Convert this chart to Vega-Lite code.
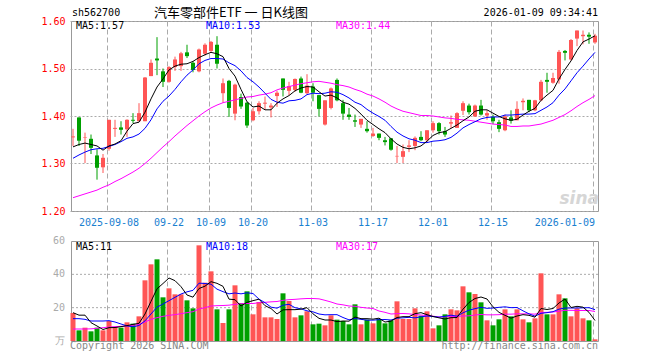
{
"$schema": "https://vega.github.io/schema/vega-lite/v6.json",
"autosize": {"type": "pad"},
"padding": {"left": 40, "top": 6, "right": 0, "bottom": 0},
"background": "white",
"spacing": 30,
"bounds": "flush",
"config": {
  "view": {"stroke": "#999999", "strokeWidth": 1},
  "axis": {"labelFont": "DejaVu Sans Mono", "labelFontSize": 10, "ticks": false, "domain": false, "title": null, "gridColor": "#aaaaaa", "gridWidth": 1, "labelOverlap": false, "labelAngle": 0},
  "text": {"font": "DejaVu Sans Mono", "fontSize": 10},
  "line": {"strokeWidth": 1}
},
"datasets": {
"k": [
{"d":"2025-08-29","o":1.355,"h":1.373,"l":1.337,"c":1.357,"v":16.8,"m5":1.335,"m10":1.311,"m30":1.228,"vm5":17.0,"vm10":13.4,"vm30":7.2},
{"d":"2025-09-01","o":1.397,"h":1.397,"l":1.337,"c":1.348,"v":6.4,"m5":1.340,"m10":1.318,"m30":1.232,"vm5":15.5,"vm10":13.4,"vm30":7.2},
{"d":"2025-09-02","o":1.354,"h":1.365,"l":1.301,"c":1.355,"v":8.0,"m5":1.343,"m10":1.324,"m30":1.236,"vm5":15.5,"vm10":13.0,"vm30":7.2},
{"d":"2025-09-03","o":1.352,"h":1.361,"l":1.320,"c":1.333,"v":5.8,"m5":1.340,"m10":1.329,"m30":1.240,"vm5":11.0,"vm10":12.0,"vm30":7.3},
{"d":"2025-09-04","o":1.317,"h":1.330,"l":1.266,"c":1.291,"v":8.0,"m5":1.337,"m10":1.331,"m30":1.244,"vm5":9.0,"vm10":12.0,"vm30":7.6},
{"d":"2025-09-05","o":1.292,"h":1.320,"l":1.280,"c":1.312,"v":6.4,"m5":1.328,"m10":1.332,"m30":1.250,"vm5":6.9,"vm10":12.0,"vm30":8.0},
{"d":"2025-09-08","o":1.331,"h":1.392,"l":1.327,"c":1.392,"v":12.0,"m5":1.337,"m10":1.336,"m30":1.255,"vm5":8.0,"vm10":12.2,"vm30":8.4},
{"d":"2025-09-09","o":1.373,"h":1.392,"l":1.356,"c":1.375,"v":8.4,"m5":1.341,"m10":1.340,"m30":1.262,"vm5":8.1,"vm10":11.4,"vm30":8.6},
{"d":"2025-09-10","o":1.376,"h":1.389,"l":1.361,"c":1.371,"v":8.0,"m5":1.348,"m10":1.346,"m30":1.268,"vm5":8.6,"vm10":10.2,"vm30":8.8},
{"d":"2025-09-11","o":1.372,"h":1.393,"l":1.356,"c":1.392,"v":11.2,"m5":1.368,"m10":1.353,"m30":1.275,"vm5":9.2,"vm10":9.1,"vm30":9.0},
{"d":"2025-09-12","o":1.392,"h":1.406,"l":1.385,"c":1.390,"v":10.4,"m5":1.384,"m10":1.356,"m30":1.282,"vm5":10.0,"vm10":8.5,"vm30":9.4},
{"d":"2025-09-15","o":1.389,"h":1.427,"l":1.389,"c":1.406,"v":14.8,"m5":1.387,"m10":1.362,"m30":1.290,"vm5":10.6,"vm10":9.3,"vm30":10.0},
{"d":"2025-09-16","o":1.389,"h":1.482,"l":1.389,"c":1.481,"v":36.4,"m5":1.408,"m10":1.374,"m30":1.300,"vm5":16.2,"vm10":12.1,"vm30":11.4},
{"d":"2025-09-17","o":1.484,"h":1.519,"l":1.484,"c":1.512,"v":46.0,"m5":1.436,"m10":1.392,"m30":1.311,"vm5":23.8,"vm10":16.2,"vm30":13.0},
{"d":"2025-09-18","o":1.521,"h":1.566,"l":1.486,"c":1.517,"v":49.0,"m5":1.461,"m10":1.415,"m30":1.323,"vm5":31.3,"vm10":20.3,"vm30":14.0},
{"d":"2025-09-19","o":1.494,"h":1.500,"l":1.461,"c":1.472,"v":26.2,"m5":1.478,"m10":1.431,"m30":1.335,"vm5":34.5,"vm10":22.2,"vm30":14.8},
{"d":"2025-09-22","o":1.472,"h":1.505,"l":1.470,"c":1.503,"v":31.6,"m5":1.497,"m10":1.442,"m30":1.346,"vm5":37.8,"vm10":24.2,"vm30":15.4},
{"d":"2025-09-23","o":1.503,"h":1.525,"l":1.495,"c":1.519,"v":28.0,"m5":1.505,"m10":1.456,"m30":1.358,"vm5":36.2,"vm10":26.2,"vm30":15.8},
{"d":"2025-09-24","o":1.505,"h":1.535,"l":1.495,"c":1.532,"v":28.0,"m5":1.509,"m10":1.472,"m30":1.369,"vm5":32.6,"vm10":28.2,"vm30":16.4},
{"d":"2025-09-25","o":1.534,"h":1.550,"l":1.522,"c":1.526,"v":24.4,"m5":1.510,"m10":1.486,"m30":1.380,"vm5":27.6,"vm10":29.5,"vm30":17.0},
{"d":"2025-09-26","o":1.512,"h":1.515,"l":1.492,"c":1.497,"v":19.6,"m5":1.515,"m10":1.497,"m30":1.390,"vm5":26.3,"vm10":30.4,"vm30":17.6},
{"d":"2025-09-29","o":1.494,"h":1.542,"l":1.492,"c":1.540,"v":57.4,"m5":1.523,"m10":1.510,"m30":1.400,"vm5":31.5,"vm10":34.7,"vm30":19.2},
{"d":"2025-09-30","o":1.531,"h":1.553,"l":1.527,"c":1.550,"v":35.0,"m5":1.529,"m10":1.517,"m30":1.409,"vm5":32.9,"vm10":34.5,"vm30":20.0},
{"d":"2025-10-09","o":1.537,"h":1.558,"l":1.535,"c":1.556,"v":41.8,"m5":1.534,"m10":1.521,"m30":1.417,"vm5":35.6,"vm10":34.1,"vm30":21.0},
{"d":"2025-10-10","o":1.550,"h":1.568,"l":1.500,"c":1.510,"v":19.0,"m5":1.531,"m10":1.521,"m30":1.423,"vm5":34.6,"vm10":31.1,"vm30":21.2},
{"d":"2025-10-13","o":1.448,"h":1.479,"l":1.428,"c":1.469,"v":10.8,"m5":1.525,"m10":1.520,"m30":1.428,"vm5":32.8,"vm10":29.6,"vm30":21.3},
{"d":"2025-10-14","o":1.474,"h":1.476,"l":1.398,"c":1.417,"v":19.0,"m5":1.500,"m10":1.512,"m30":1.431,"vm5":25.1,"vm10":28.3,"vm30":21.5},
{"d":"2025-10-15","o":1.405,"h":1.468,"l":1.391,"c":1.466,"v":33.4,"m5":1.484,"m10":1.506,"m30":1.434,"vm5":24.8,"vm10":28.8,"vm30":22.0},
{"d":"2025-10-16","o":1.440,"h":1.447,"l":1.415,"c":1.420,"v":22.8,"m5":1.456,"m10":1.495,"m30":1.437,"vm5":21.0,"vm10":28.3,"vm30":22.4},
{"d":"2025-10-17","o":1.428,"h":1.430,"l":1.375,"c":1.380,"v":29.8,"m5":1.430,"m10":1.481,"m30":1.440,"vm5":23.2,"vm10":28.9,"vm30":22.5},
{"d":"2025-10-20","o":1.391,"h":1.417,"l":1.389,"c":1.410,"v":16.0,"m5":1.419,"m10":1.472,"m30":1.441,"vm5":24.2,"vm10":28.5,"vm30":22.5},
{"d":"2025-10-21","o":1.410,"h":1.431,"l":1.403,"c":1.427,"v":23.4,"m5":1.421,"m10":1.461,"m30":1.444,"vm5":25.1,"vm10":25.1,"vm30":23.0},
{"d":"2025-10-22","o":1.426,"h":1.441,"l":1.413,"c":1.428,"v":14.2,"m5":1.413,"m10":1.448,"m30":1.446,"vm5":21.2,"vm10":23.0,"vm30":23.2},
{"d":"2025-10-23","o":1.418,"h":1.427,"l":1.397,"c":1.422,"v":14.2,"m5":1.413,"m10":1.435,"m30":1.449,"vm5":19.5,"vm10":20.3,"vm30":23.5},
{"d":"2025-10-24","o":1.442,"h":1.453,"l":1.419,"c":1.449,"v":13.2,"m5":1.427,"m10":1.429,"m30":1.455,"vm5":16.2,"vm10":19.7,"vm30":23.7},
{"d":"2025-10-27","o":1.479,"h":1.479,"l":1.441,"c":1.455,"v":28.6,"m5":1.436,"m10":1.427,"m30":1.459,"vm5":18.7,"vm10":21.5,"vm30":24.4},
{"d":"2025-10-28","o":1.453,"h":1.472,"l":1.444,"c":1.463,"v":24.0,"m5":1.443,"m10":1.432,"m30":1.462,"vm5":18.8,"vm10":22.0,"vm30":24.8},
{"d":"2025-10-29","o":1.455,"h":1.479,"l":1.451,"c":1.478,"v":14.2,"m5":1.453,"m10":1.433,"m30":1.465,"vm5":18.8,"vm10":20.0,"vm30":25.0},
{"d":"2025-10-30","o":1.479,"h":1.483,"l":1.448,"c":1.449,"v":15.4,"m5":1.459,"m10":1.436,"m30":1.468,"vm5":19.1,"vm10":19.3,"vm30":25.3},
{"d":"2025-10-31","o":1.448,"h":1.488,"l":1.445,"c":1.464,"v":17.8,"m5":1.462,"m10":1.445,"m30":1.470,"vm5":20.0,"vm10":18.1,"vm30":25.5},
{"d":"2025-11-03","o":1.462,"h":1.469,"l":1.431,"c":1.449,"v":10.0,"m5":1.461,"m10":1.448,"m30":1.472,"vm5":16.3,"vm10":17.5,"vm30":25.5},
{"d":"2025-11-04","o":1.444,"h":1.444,"l":1.399,"c":1.415,"v":10.4,"m5":1.451,"m10":1.447,"m30":1.473,"vm5":13.6,"vm10":16.2,"vm30":25.3},
{"d":"2025-11-05","o":1.382,"h":1.433,"l":1.380,"c":1.433,"v":9.4,"m5":1.442,"m10":1.448,"m30":1.471,"vm5":12.6,"vm10":15.7,"vm30":24.4},
{"d":"2025-11-06","o":1.417,"h":1.460,"l":1.414,"c":1.458,"v":15.4,"m5":1.444,"m10":1.451,"m30":1.469,"vm5":12.6,"vm10":15.8,"vm30":23.4},
{"d":"2025-11-07","o":1.476,"h":1.479,"l":1.431,"c":1.433,"v":12.8,"m5":1.438,"m10":1.450,"m30":1.466,"vm5":11.6,"vm10":15.8,"vm30":22.2},
{"d":"2025-11-10","o":1.427,"h":1.434,"l":1.392,"c":1.405,"v":12.0,"m5":1.429,"m10":1.445,"m30":1.464,"vm5":12.0,"vm10":14.1,"vm30":21.7},
{"d":"2025-11-11","o":1.403,"h":1.417,"l":1.392,"c":1.398,"v":10.0,"m5":1.425,"m10":1.438,"m30":1.461,"vm5":11.9,"vm10":12.7,"vm30":21.0},
{"d":"2025-11-12","o":1.391,"h":1.403,"l":1.377,"c":1.388,"v":22.0,"m5":1.416,"m10":1.429,"m30":1.456,"vm5":14.4,"vm10":13.5,"vm30":20.8},
{"d":"2025-11-13","o":1.382,"h":1.394,"l":1.375,"c":1.394,"v":10.0,"m5":1.404,"m10":1.424,"m30":1.452,"vm5":13.4,"vm10":13.0,"vm30":20.2},
{"d":"2025-11-14","o":1.373,"h":1.389,"l":1.365,"c":1.368,"v":12.8,"m5":1.391,"m10":1.414,"m30":1.446,"vm5":13.4,"vm10":12.5,"vm30":19.8},
{"d":"2025-11-17","o":1.358,"h":1.375,"l":1.356,"c":1.363,"v":10.6,"m5":1.382,"m10":1.406,"m30":1.442,"vm5":13.1,"vm10":12.5,"vm30":19.5},
{"d":"2025-11-18","o":1.363,"h":1.363,"l":1.349,"c":1.354,"v":13.2,"m5":1.373,"m10":1.399,"m30":1.436,"vm5":13.7,"vm10":12.8,"vm30":18.0},
{"d":"2025-11-19","o":1.349,"h":1.356,"l":1.338,"c":1.345,"v":10.6,"m5":1.365,"m10":1.391,"m30":1.429,"vm5":11.4,"vm10":12.9,"vm30":17.2},
{"d":"2025-11-20","o":1.353,"h":1.353,"l":1.327,"c":1.329,"v":12.4,"m5":1.352,"m10":1.378,"m30":1.421,"vm5":11.9,"vm10":12.6,"vm30":16.2},
{"d":"2025-11-21","o":1.315,"h":1.337,"l":1.301,"c":1.316,"v":23.8,"m5":1.341,"m10":1.366,"m30":1.415,"vm5":14.1,"vm10":13.7,"vm30":16.4},
{"d":"2025-11-24","o":1.314,"h":1.340,"l":1.301,"c":1.326,"v":13.2,"m5":1.334,"m10":1.358,"m30":1.410,"vm5":14.6,"vm10":13.9,"vm30":16.5},
{"d":"2025-11-25","o":1.335,"h":1.349,"l":1.324,"c":1.338,"v":13.2,"m5":1.331,"m10":1.352,"m30":1.407,"vm5":14.6,"vm10":14.2,"vm30":16.3},
{"d":"2025-11-26","o":1.337,"h":1.357,"l":1.328,"c":1.354,"v":19.6,"m5":1.333,"m10":1.349,"m30":1.404,"vm5":16.4,"vm10":13.9,"vm30":15.8},
{"d":"2025-11-27","o":1.356,"h":1.368,"l":1.347,"c":1.349,"v":15.2,"m5":1.337,"m10":1.344,"m30":1.401,"vm5":17.0,"vm10":14.5,"vm30":15.6},
{"d":"2025-11-28","o":1.349,"h":1.370,"l":1.345,"c":1.370,"v":17.8,"m5":1.347,"m10":1.344,"m30":1.401,"vm5":15.8,"vm10":15.0,"vm30":15.2},
{"d":"2025-12-01","o":1.370,"h":1.389,"l":1.365,"c":1.385,"v":7.6,"m5":1.359,"m10":1.347,"m30":1.400,"vm5":14.7,"vm10":14.7,"vm30":14.9},
{"d":"2025-12-02","o":1.385,"h":1.387,"l":1.361,"c":1.368,"v":9.4,"m5":1.365,"m10":1.348,"m30":1.398,"vm5":13.9,"vm10":14.3,"vm30":14.4},
{"d":"2025-12-03","o":1.368,"h":1.377,"l":1.356,"c":1.361,"v":16.0,"m5":1.367,"m10":1.350,"m30":1.396,"vm5":13.2,"vm10":14.8,"vm30":14.5},
{"d":"2025-12-04","o":1.384,"h":1.401,"l":1.375,"c":1.387,"v":19.0,"m5":1.374,"m10":1.355,"m30":1.395,"vm5":14.0,"vm10":15.5,"vm30":14.7},
{"d":"2025-12-05","o":1.375,"h":1.408,"l":1.375,"c":1.406,"v":18.4,"m5":1.381,"m10":1.364,"m30":1.393,"vm5":14.1,"vm10":14.9,"vm30":14.8},
{"d":"2025-12-08","o":1.411,"h":1.431,"l":1.402,"c":1.427,"v":32.8,"m5":1.390,"m10":1.375,"m30":1.392,"vm5":19.1,"vm10":16.9,"vm30":15.0},
{"d":"2025-12-09","o":1.422,"h":1.426,"l":1.403,"c":1.408,"v":29.2,"m5":1.398,"m10":1.382,"m30":1.391,"vm5":23.1,"vm10":18.5,"vm30":15.1},
{"d":"2025-12-10","o":1.399,"h":1.424,"l":1.398,"c":1.422,"v":28.2,"m5":1.410,"m10":1.388,"m30":1.389,"vm5":25.5,"vm10":19.4,"vm30":15.6},
{"d":"2025-12-11","o":1.422,"h":1.434,"l":1.401,"c":1.403,"v":23.2,"m5":1.413,"m10":1.394,"m30":1.387,"vm5":26.4,"vm10":20.2,"vm30":15.9},
{"d":"2025-12-12","o":1.401,"h":1.412,"l":1.392,"c":1.406,"v":12.4,"m5":1.413,"m10":1.397,"m30":1.385,"vm5":25.2,"vm10":19.6,"vm30":15.7},
{"d":"2025-12-15","o":1.398,"h":1.403,"l":1.383,"c":1.389,"v":9.4,"m5":1.406,"m10":1.398,"m30":1.383,"vm5":20.5,"vm10":19.8,"vm30":15.7},
{"d":"2025-12-16","o":1.387,"h":1.392,"l":1.366,"c":1.373,"v":13.0,"m5":1.399,"m10":1.398,"m30":1.382,"vm5":17.2,"vm10":20.2,"vm30":15.8},
{"d":"2025-12-17","o":1.370,"h":1.403,"l":1.368,"c":1.399,"v":19.0,"m5":1.394,"m10":1.402,"m30":1.381,"vm5":15.4,"vm10":20.5,"vm30":16.1},
{"d":"2025-12-18","o":1.397,"h":1.412,"l":1.384,"c":1.390,"v":14.8,"m5":1.391,"m10":1.402,"m30":1.378,"vm5":13.7,"vm10":20.0,"vm30":16.1},
{"d":"2025-12-19","o":1.391,"h":1.431,"l":1.391,"c":1.415,"v":19.0,"m5":1.393,"m10":1.403,"m30":1.378,"vm5":15.0,"vm10":20.1,"vm30":16.3},
{"d":"2025-12-22","o":1.429,"h":1.437,"l":1.412,"c":1.432,"v":13.0,"m5":1.402,"m10":1.404,"m30":1.379,"vm5":15.8,"vm10":18.1,"vm30":16.3},
{"d":"2025-12-23","o":1.434,"h":1.434,"l":1.408,"c":1.412,"v":11.2,"m5":1.410,"m10":1.404,"m30":1.379,"vm5":15.4,"vm10":16.3,"vm30":16.3},
{"d":"2025-12-24","o":1.412,"h":1.434,"l":1.410,"c":1.433,"v":13.6,"m5":1.416,"m10":1.405,"m30":1.381,"vm5":14.3,"vm10":14.9,"vm30":16.1},
{"d":"2025-12-25","o":1.433,"h":1.476,"l":1.431,"c":1.472,"v":40.6,"m5":1.433,"m10":1.412,"m30":1.383,"vm5":19.5,"vm10":16.6,"vm30":17.1},
{"d":"2025-12-26","o":1.476,"h":1.491,"l":1.449,"c":1.472,"v":16.0,"m5":1.444,"m10":1.419,"m30":1.387,"vm5":18.9,"vm10":17.0,"vm30":17.2},
{"d":"2025-12-29","o":1.470,"h":1.491,"l":1.468,"c":1.480,"v":16.0,"m5":1.454,"m10":1.428,"m30":1.391,"vm5":19.5,"vm10":17.6,"vm30":17.4},
{"d":"2025-12-30","o":1.477,"h":1.539,"l":1.468,"c":1.535,"v":28.0,"m5":1.478,"m10":1.444,"m30":1.397,"vm5":22.8,"vm10":19.1,"vm30":17.9},
{"d":"2025-12-31","o":1.537,"h":1.539,"l":1.517,"c":1.533,"v":25.6,"m5":1.498,"m10":1.457,"m30":1.403,"vm5":25.2,"vm10":19.8,"vm30":18.4},
{"d":"2026-01-05","o":1.519,"h":1.562,"l":1.517,"c":1.560,"v":14.8,"m5":1.516,"m10":1.474,"m30":1.411,"vm5":20.1,"vm10":19.8,"vm30":18.4},
{"d":"2026-01-06","o":1.563,"h":1.580,"l":1.547,"c":1.580,"v":19.6,"m5":1.538,"m10":1.491,"m30":1.420,"vm5":20.8,"vm10":19.8,"vm30":18.3},
{"d":"2026-01-07","o":1.568,"h":1.580,"l":1.551,"c":1.571,"v":13.6,"m5":1.556,"m10":1.505,"m30":1.428,"vm5":20.3,"vm10":19.9,"vm30":18.3},
{"d":"2026-01-08","o":1.571,"h":1.576,"l":1.552,"c":1.567,"v":12.4,"m5":1.562,"m10":1.520,"m30":1.435,"vm5":17.2,"vm10":20.0,"vm30":18.3},
{"d":"2026-01-09","o":1.555,"h":1.573,"l":1.552,"c":1.569,"v":1.0,"m5":1.569,"m10":1.534,"m30":1.443,"vm5":12.3,"vm10":18.8,"vm30":17.7}
]
},
"vconcat": [
{
  "width": 527, "height": 190,
  "layer": [
    {"data": {"name": "k"}, "mark": {"type": "rule", "strokeWidth": 1},
     "encoding": {
       "x": {"field": "d", "type": "ordinal", "scale": {"type": "band", "range": [-1, 527], "paddingInner": 0, "paddingOuter": 0},
         "axis": {"values": ["2025-09-08","2025-09-22","2025-10-09","2025-10-20","2025-11-03","2025-11-17","2025-12-01","2025-12-15","2026-01-09"],
           "labelExpr": "datum.value == '2025-09-08' || datum.value == '2026-01-09' ? datum.value : slice(datum.value, 5)",
           "labelColor": "#1a80d0", "labelBaseline": "top", "labelPadding": 6, "bandPosition": 0.22, "labelAngle": 0,
           "labelAlign": {"condition": {"test": "datum.value == '2026-01-09'", "value": "right"}, "value": "center"},
           "grid": true, "gridDash": [5, 3], "gridColor": "#aaaaaa"}},
       "y": {"field": "l", "type": "quantitative", "scale": {"domain": [1.2, 1.6], "nice": false, "zero": false},
         "axis": {"values": [1.2, 1.3, 1.4, 1.5, 1.6], "format": ".2f", "labelColor": "#ff0000", "labelPadding": 6, "grid": true, "gridDash": [2, 2]}},
       "y2": {"field": "h"},
       "color": {"condition": {"test": "datum.c >= datum.o", "value": "#ff5555"}, "value": "#00a000"}
     }},
    {"data": {"name": "k"}, "mark": {"type": "bar", "width": 4},
     "encoding": {
       "x": {"field": "d", "type": "ordinal"},
       "y": {"field": "o", "type": "quantitative"},
       "y2": {"field": "c"},
       "color": {"condition": {"test": "datum.c >= datum.o", "value": "#ff5555"}, "value": "#00a000"}
     }},
    {"data": {"name": "k"}, "mark": {"type": "line", "color": "#ff00ff"},
     "encoding": {"x": {"field": "d", "type": "ordinal"}, "y": {"field": "m30", "type": "quantitative"}}},
    {"data": {"name": "k"}, "mark": {"type": "line", "color": "#0000ff"},
     "encoding": {"x": {"field": "d", "type": "ordinal"}, "y": {"field": "m10", "type": "quantitative"}}},
    {"data": {"name": "k"}, "mark": {"type": "line", "color": "#000000"},
     "encoding": {"x": {"field": "d", "type": "ordinal"}, "y": {"field": "m5", "type": "quantitative"}}},
    {"data": {"values": [{}]}, "mark": {"type": "text", "align": "left", "baseline": "middle", "dx": -1, "color": "#000000"},
     "encoding": {"x": {"datum": "2025-08-29", "type": "ordinal"}, "y": {"datum": 1.616, "type": "quantitative"}, "text": {"value": "sh562700"}}},
    {"data": {"values": [{}]}, "mark": {"type": "text", "align": "center", "baseline": "middle", "dx": 2, "color": "#000000", "font": "Noto Sans CJK SC", "fontSize": 13},
     "encoding": {"x": {"datum": "2025-10-14", "type": "ordinal"}, "y": {"datum": 1.616, "type": "quantitative"}, "text": {"value": "汽车零部件ETF 一 日K线图"}}},
    {"data": {"values": [{}]}, "mark": {"type": "text", "align": "right", "baseline": "middle", "dx": 3, "color": "#000000"},
     "encoding": {"x": {"datum": "2026-01-09", "type": "ordinal"}, "y": {"datum": 1.616, "type": "quantitative"}, "text": {"value": "2026-01-09 09:34:41"}}},
    {"data": {"values": [{}]}, "mark": {"type": "text", "align": "left", "baseline": "middle", "dx": 3, "color": "#000000"},
     "encoding": {"x": {"datum": "2025-08-29", "type": "ordinal"}, "y": {"datum": 1.589, "type": "quantitative"}, "text": {"value": "MA5:1.57"}}},
    {"data": {"values": [{}]}, "mark": {"type": "text", "align": "left", "baseline": "middle", "dx": 1, "color": "#0000ff"},
     "encoding": {"x": {"datum": "2025-09-30", "type": "ordinal"}, "y": {"datum": 1.589, "type": "quantitative"}, "text": {"value": "MA10:1.53"}}},
    {"data": {"values": [{}]}, "mark": {"type": "text", "align": "left", "baseline": "middle", "dx": -1, "color": "#ff00ff"},
     "encoding": {"x": {"datum": "2025-11-07", "type": "ordinal"}, "y": {"datum": 1.589, "type": "quantitative"}, "text": {"value": "MA30:1.44"}}},
    {"data": {"values": [{}]}, "mark": {"type": "text", "align": "right", "baseline": "middle", "dx": 4, "color": "#d6d6d6", "font": "DejaVu Sans", "fontSize": 17, "fontWeight": "bold", "fontStyle": "italic"},
     "encoding": {"x": {"datum": "2026-01-09", "type": "ordinal"}, "y": {"datum": 1.2246, "type": "quantitative"}, "text": {"value": "sina"}}}
  ]
},
{
  "width": 527, "height": 100,
  "layer": [
    {"data": {"values": [{}]}, "mark": {"type": "rule", "color": "#aaaaaa", "strokeDash": [2, 2], "strokeWidth": 1},
     "encoding": {"y": {"datum": 20, "type": "quantitative", "scale": {"domain": [0, 60], "nice": false}, "axis": null}}},
    {"data": {"values": [{}]}, "mark": {"type": "rule", "color": "#aaaaaa", "strokeDash": [2, 2], "strokeWidth": 1},
     "encoding": {"y": {"datum": 40, "type": "quantitative"}}},
    {"data": {"name": "k"}, "mark": {"type": "bar", "width": 5},
     "encoding": {
       "x": {"field": "d", "type": "ordinal", "scale": {"type": "band", "range": [-1, 527], "paddingInner": 0, "paddingOuter": 0},
         "axis": {"values": ["2025-09-08","2025-09-22","2025-10-09","2025-10-20","2025-11-03","2025-11-17","2025-12-01","2025-12-15","2026-01-09"],
           "labels": false, "bandPosition": 0.22, "grid": true, "gridDash": [5, 3], "gridColor": "#aaaaaa"}},
       "y": {"field": "v", "type": "quantitative"},
       "color": {"condition": {"test": "datum.c >= datum.o", "value": "#ff5555"}, "value": "#00a000"}
     }},
    {"data": {"name": "k"}, "mark": {"type": "line", "color": "#ff00ff"},
     "encoding": {"x": {"field": "d", "type": "ordinal"}, "y": {"field": "vm30", "type": "quantitative"}}},
    {"data": {"name": "k"}, "mark": {"type": "line", "color": "#0000ff"},
     "encoding": {"x": {"field": "d", "type": "ordinal"}, "y": {"field": "vm10", "type": "quantitative"}}},
    {"data": {"name": "k"}, "mark": {"type": "line", "color": "#000000"},
     "encoding": {"x": {"field": "d", "type": "ordinal"}, "y": {"field": "vm5", "type": "quantitative"}}},
    {"data": {"values": [{}]}, "mark": {"type": "text", "align": "right", "baseline": "middle", "dx": -8, "color": "#aaaaaa"},
     "encoding": {"x": {"datum": "2025-08-29", "type": "ordinal"}, "y": {"datum": 60, "type": "quantitative"}, "text": {"value": "60"}}},
    {"data": {"values": [{}]}, "mark": {"type": "text", "align": "right", "baseline": "middle", "dx": -8, "color": "#aaaaaa"},
     "encoding": {"x": {"datum": "2025-08-29", "type": "ordinal"}, "y": {"datum": 40, "type": "quantitative"}, "text": {"value": "40"}}},
    {"data": {"values": [{}]}, "mark": {"type": "text", "align": "right", "baseline": "middle", "dx": -8, "color": "#aaaaaa"},
     "encoding": {"x": {"datum": "2025-08-29", "type": "ordinal"}, "y": {"datum": 20, "type": "quantitative"}, "text": {"value": "20"}}},
    {"data": {"values": [{}]}, "mark": {"type": "text", "align": "right", "baseline": "middle", "dx": -8, "color": "#aaaaaa"},
     "encoding": {"x": {"datum": "2025-08-29", "type": "ordinal"}, "y": {"datum": 0, "type": "quantitative"}, "text": {"value": "万"}}},
    {"data": {"values": [{}]}, "mark": {"type": "text", "align": "left", "baseline": "middle", "dx": 3, "color": "#000000"},
     "encoding": {"x": {"datum": "2025-08-29", "type": "ordinal"}, "y": {"datum": 56.6, "type": "quantitative"}, "text": {"value": "MA5:11"}}},
    {"data": {"values": [{}]}, "mark": {"type": "text", "align": "left", "baseline": "middle", "dx": 1, "color": "#0000ff"},
     "encoding": {"x": {"datum": "2025-09-30", "type": "ordinal"}, "y": {"datum": 56.6, "type": "quantitative"}, "text": {"value": "MA10:18"}}},
    {"data": {"values": [{}]}, "mark": {"type": "text", "align": "left", "baseline": "middle", "dx": -1, "color": "#ff00ff"},
     "encoding": {"x": {"datum": "2025-11-07", "type": "ordinal"}, "y": {"datum": 56.6, "type": "quantitative"}, "text": {"value": "MA30:17"}}},
    {"data": {"values": [{}]}, "mark": {"type": "text", "align": "left", "baseline": "middle", "dx": -3, "color": "#888888"},
     "encoding": {"x": {"datum": "2025-08-29", "type": "ordinal"}, "y": {"datum": -3.0, "type": "quantitative"}, "text": {"value": "Copyright 2026 SINA.COM"}}},
    {"data": {"values": [{}]}, "mark": {"type": "text", "align": "right", "baseline": "middle", "dx": 3, "color": "#888888"},
     "encoding": {"x": {"datum": "2026-01-09", "type": "ordinal"}, "y": {"datum": -3.0, "type": "quantitative"}, "text": {"value": "http://finance.sina.com.cn"}}}
  ]
}
]
}
